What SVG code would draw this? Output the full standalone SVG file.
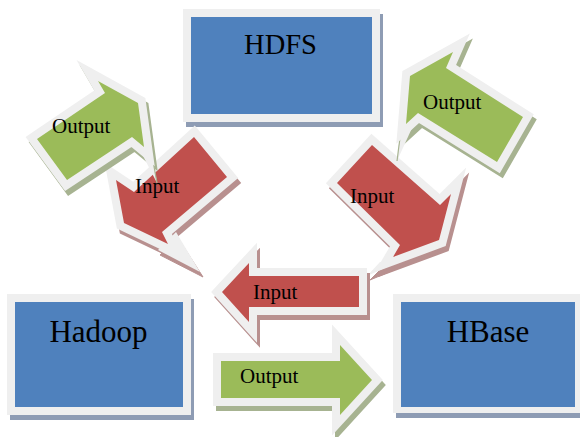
<svg xmlns="http://www.w3.org/2000/svg" width="580" height="437" viewBox="0 0 580 437">
  <style>
    .frame{stroke:#efefef;stroke-width:16;stroke-linejoin:miter;stroke-miterlimit:12;paint-order:stroke}
    .shadow{stroke-width:16;stroke-linejoin:miter;stroke-miterlimit:12}
    .box-frame{fill:#efefef}
    .spike{fill:#efefef}
    .blue{fill:#4f81bd}
    .red{fill:#c0504d}
    .green{fill:#9bbb59}
    .sh-blue{fill:#8e9cb4}
    .sh-red{fill:#b8908f;stroke:#b8908f}
    .sh-green{fill:#a7b391;stroke:#a7b391}
    .edge-green{fill:none;stroke:#a7b391;stroke-width:1.2}
    .lbl{font-size:21px}
    .big{font-size:31px;text-anchor:middle}
  </style>
  <defs>
    <path id="p-out-left" d="M37,139 L105,93 L98,81 L138,103 L144,147 L132,137 L67,180 Z"/>
    <path id="p-in-left" d="M194,137 L227,177 L162,232 L168,244 L124,223 L116,180 L134,192 Z"/>
    <path id="p-out-right" d="M410,76 L453,52 L446,68 L523,117 L497,162 L418,113 L406,124 Z"/>
    <path id="p-in-right" d="M372,145 L440,205 L451,194 L439,240 L393,257 L400,245 L337,183 Z"/>
    <path id="p-in-bottom" d="M222,292 L249,263 L249,276 L359,276 L359,307 L249,307 L249,322 Z"/>
    <path id="p-out-bottom" d="M221,361 L340,361 L340,345 L372,380 L340,415 L340,398 L221,398 Z"/>
  </defs>

  <g font-family="'Liberation Serif', 'Times New Roman', 'DejaVu Serif', serif" fill="#000">
  <!-- storage / compute blocks -->
  <g id="hdfs">
    <rect class="sh-blue" x="186" y="14" width="197" height="113"/>
    <rect class="box-frame" x="183" y="9" width="197" height="113"/>
    <rect class="blue" x="191" y="17" width="181" height="97"/>
    <text class="big" x="280.5" y="54" style="font-size:28.5px">HDFS</text>
  </g>
  <g id="hadoop">
    <rect class="sh-blue" x="10" y="299" width="184" height="121"/>
    <rect class="box-frame" x="7" y="294" width="184" height="121"/>
    <rect class="blue" x="15" y="302" width="168" height="105"/>
    <text class="big" x="98.5" y="342">Hadoop</text>
  </g>
  <g id="hbase">
    <rect class="sh-blue" x="396" y="299" width="190" height="119"/>
    <rect class="box-frame" x="393" y="294" width="190" height="119"/>
    <rect class="blue" x="401" y="302" width="174" height="105"/>
    <text class="big" x="488" y="342">HBase</text>
  </g>

  <!-- data-flow arrows: shadow, frame spikes, then framed body -->
  <g id="connectors">
    <g id="input-hdfs-hadoop">
      <use href="#p-in-left" class="shadow sh-red" transform="translate(3,5)"/>
      <polygon class="sh-red" points="160,255 178,238 203,277"/>
      <polygon class="spike" points="158,250 176,232 200,272"/>
      <use href="#p-in-left" class="frame red"/>
    </g>
    <g id="input-hdfs-hbase">
      <use href="#p-in-right" class="shadow sh-red" transform="translate(3,5)"/>
      <polygon class="sh-red" points="383,267 401,267 370,280"/>
      <polygon class="spike" points="380,262 398,262 367,276"/>
      <use href="#p-in-right" class="frame red"/>
    </g>
    <g id="input-hbase-hadoop">
      <use href="#p-in-bottom" class="shadow sh-red" transform="translate(3,5)"/>
      <use href="#p-in-bottom" class="frame red"/>
    </g>
    <g id="output-hadoop-hdfs">
      <use href="#p-out-left" class="shadow sh-green" transform="translate(3,5)"/>
      <polygon class="spike" points="140,150 151,149 157,183"/>
      <line class="edge-green" x1="151" y1="150" x2="157" y2="183"/>
      <use href="#p-out-left" class="frame green"/>
    </g>
    <g id="output-hbase-hdfs">
      <use href="#p-out-right" class="shadow sh-green" transform="translate(3,5)"/>
      <polygon class="spike" points="401,128 412,128 397,161"/>
      <line class="edge-green" x1="401" y1="130" x2="397" y2="161"/>
      <use href="#p-out-right" class="frame green"/>
    </g>
    <g id="output-hadoop-hbase">
      <use href="#p-out-bottom" class="shadow sh-green" transform="translate(3,5)"/>
      <use href="#p-out-bottom" class="frame green"/>
    </g>
    <text class="lbl" x="52" y="133">Output</text>
    <text class="lbl" x="135" y="193">Input</text>
    <text class="lbl" x="423" y="109">Output</text>
    <text class="lbl" x="350" y="203">Input</text>
    <text class="lbl" x="253" y="299">Input</text>
    <text class="lbl" x="240" y="383">Output</text>
  </g>
  </g>
</svg>
